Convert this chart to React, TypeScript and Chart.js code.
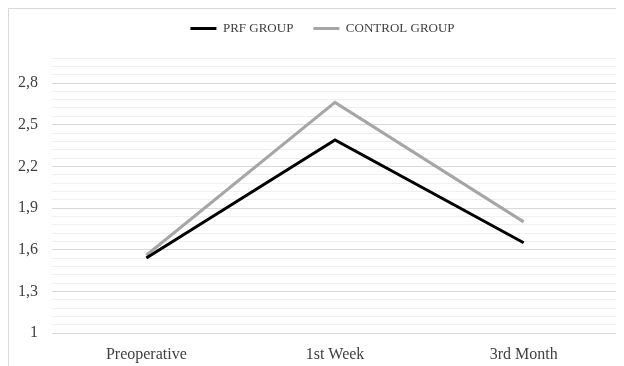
import React, { useEffect, useRef } from "react";
import { Chart, registerables } from "chart.js";

Chart.register(...registerables);

const categories = ["Preoperative", "1st Week", "3rd Month"];
const prfGroup = [1.54, 2.39, 1.65];
const controlGroup = [1.56, 2.66, 1.8];
const yMin = 1;
const yMax = 2.98;
const minorStep = 0.06;
const majorStep = 0.3;

const fmt = (v: number) => {
  const r = Math.round(v * 10) / 10;
  return String(r).replace(".", ",");
};

const isMajor = (v: number) => {
  const k = (v - yMin) / majorStep;
  return Math.abs(k - Math.round(k)) < 1e-6;
};

const legendShift = {
  id: "legendShift",
  afterLayout(chart: any) {
    const lg = chart.legend;
    if (lg) {
      lg.top -= 13;
      lg.bottom -= 13;
      lg.left += 9;
      lg.right += 9;
    }
  },
};

export default function App() {
  const ref = useRef<HTMLCanvasElement | null>(null);
  useEffect(() => {
    document.body.style.overflow = "hidden";
    const ctx = ref.current!;
    const chart = new Chart(ctx, {
      type: "line",
      data: {
        labels: categories,
        datasets: [
          {
            label: "PRF GROUP",
            data: prfGroup,
            borderColor: "#000000",
            backgroundColor: "#000000",
            borderWidth: 3,
            pointRadius: 0,
            tension: 0,
          },
          {
            label: "CONTROL GROUP",
            data: controlGroup,
            borderColor: "#a6a6a6",
            backgroundColor: "#a6a6a6",
            borderWidth: 3,
            pointRadius: 0,
            tension: 0,
          },
        ],
      },
      plugins: [legendShift],
      options: {
        animation: false,
        responsive: true,
        maintainAspectRatio: false,
        layout: { padding: { top: 6, right: 6, left: 0, bottom: 0 } },
        plugins: {
          tooltip: { enabled: false },
          legend: {
            display: true,
            position: "top",
            labels: {
              usePointStyle: true,
              pointStyle: "line",
              pointStyleWidth: 26,
              boxHeight: 13,
              padding: 20,
              color: "#404040",
              font: { family: "'Liberation Serif', serif", size: 13 },
            },
          },
        },
        scales: {
          x: {
            type: "category",
            offset: true,
            grid: { display: false, drawTicks: false },
            border: { display: false },
            ticks: {
              color: "#404040",
              padding: 12,
              font: { family: "'Liberation Serif', serif", size: 16 },
            },
            afterFit: (scale: any) => {
              scale.height = 33;
            },
          },
          y: {
            min: yMin,
            max: yMax,
            border: { display: false },
            afterBuildTicks: (scale: any) => {
              const ticks = [];
              const n = Math.round((yMax - yMin) / minorStep);
              for (let i = 0; i <= n; i++) {
                ticks.push({ value: yMin + i * minorStep });
              }
              scale.ticks = ticks;
            },
            afterFit: (scale: any) => {
              scale.width = 43;
            },
            grid: {
              drawTicks: false,
              lineWidth: 1,
              color: (c: any) => (isMajor(c.tick.value) ? "#d9d9d9" : "#efefef"),
            },
            ticks: {
              autoSkip: false,
              color: "#404040",
              padding: 14,
              font: { family: "'Liberation Serif', serif", size: 16 },
              callback: (v: any) => (isMajor(Number(v)) ? fmt(Number(v)) : ""),
            },
          },
        },
      },
    });
    return () => chart.destroy();
  }, []);
  return (
    <div
      style={{
        width: 616,
        height: 358,
        boxSizing: "border-box",
        borderTop: "1px solid #d9d9d9",
        borderLeft: "1px solid #d9d9d9",
        position: "relative",
        background: "#ffffff",
      }}
    >
      <canvas ref={ref} />
    </div>
  );
}
